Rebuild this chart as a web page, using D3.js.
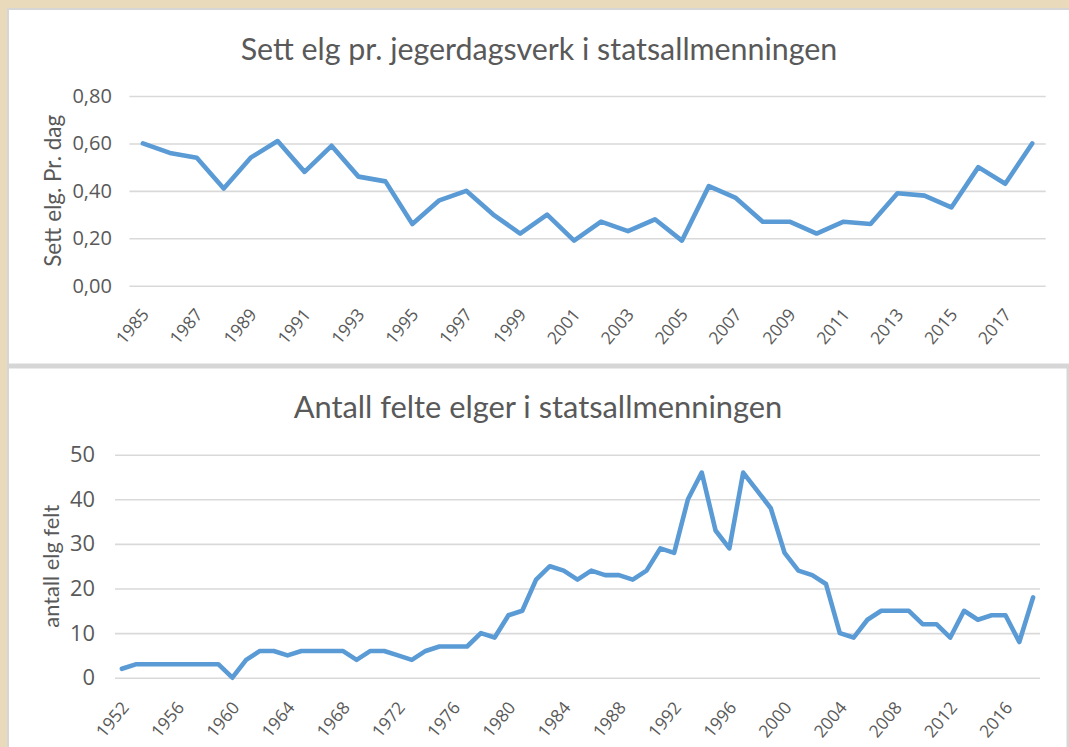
<!DOCTYPE html>
<html><head><meta charset="utf-8">
<script src="https://cdn.jsdelivr.net/npm/d3@7"></script>
<style>html,body{margin:0;padding:0;background:#e9dabb;} svg{display:block;}</style>
</head><body><svg id="c" width="1069" height="747"></svg>
<script>
// ---------- DATA ----------
const topYears = [1985,1986,1987,1988,1989,1990,1991,1992,1993,1994,1995,1996,1997,1998,1999,2000,2001,2002,2003,2004,2005,2006,2007,2008,2009,2010,2011,2012,2013,2014,2015,2016,2017,2018];
const topValues = [0.60,0.56,0.54,0.41,0.54,0.61,0.48,0.59,0.46,0.44,0.26,0.36,0.40,0.30,0.22,0.30,0.19,0.27,0.23,0.28,0.19,0.42,0.37,0.27,0.27,0.22,0.27,0.26,0.39,0.38,0.33,0.50,0.43,0.60];
const topTickYears = [1985,1987,1989,1991,1993,1995,1997,1999,2001,2003,2005,2007,2009,2011,2013,2015,2017];
const topYTicks = [0,0.2,0.4,0.6,0.8];
const topTitle = "Sett elg pr. jegerdagsverk i statsallmenningen";
const topYTitle = "Sett elg. Pr. dag";

const bottomYears = [1952,1953,1954,1955,1956,1957,1958,1959,1960,1961,1962,1963,1964,1965,1966,1967,1968,1969,1970,1971,1972,1973,1974,1975,1976,1977,1978,1979,1980,1981,1982,1983,1984,1985,1986,1987,1988,1989,1990,1991,1992,1993,1994,1995,1996,1997,1998,1999,2000,2001,2002,2003,2004,2005,2006,2007,2008,2009,2010,2011,2012,2013,2014,2015,2016,2017,2018];
const bottomValues = [2,3,3,3,3,3,3,3,0,4, 6,6,5,6,6,6,6,4,6,6, 5,4,6,7,7,7,10,9,14,15, 22,25,24,22,24,23,23,22,24,29, 28,40,46,33,29,46,42,38,28,24, 23,21,10,9,13,15,15,15,12,12, 9,15,13,14,14,8,18];
const bottomTickYears = [1952,1956,1960,1964,1968,1972,1976,1980,1984,1988,1992,1996,2000,2004,2008,2012,2016];
const bottomYTicks = [0,10,20,30,40,50];
const bottomTitle = "Antall felte elger i statsallmenningen";
const bottomYTitle = "antall elg felt";

// ---------- STYLE ----------
const FONT = "Lato, 'Open Sans', sans-serif";
const NUMFONT = "'Open Sans', 'Noto Sans', sans-serif";
const TEXT = "#595959";
const LINE = "#5b9bd5";
const GRID = "#d9d9d9";

const svg = d3.select("#c");
const W = 1069, H = 747;

// frame
svg.append("rect").attr("x",0).attr("y",0).attr("width",W).attr("height",H).attr("fill","#e9dabb");
svg.append("rect").attr("x",7).attr("y",8).attr("width",W-7).attr("height",H-8).attr("fill","#d6d6d6");
svg.append("rect").attr("x",9).attr("y",10).attr("width",W-9).attr("height",353.5).attr("fill","#fff");
svg.append("rect").attr("x",9).attr("y",368.5).attr("width",1057.5).attr("height",H-368.5).attr("fill","#fff");

const nb = d3.formatLocale({decimal:",", thousands:" ", grouping:[3], currency:["","kr"]});

function measureSize(txt, target, font){
  const p = svg.append("text").attr("font-family",font).attr("font-size",20).text(txt);
  const w = p.node().getComputedTextLength();
  p.remove();
  return 20*target/w;
}
function fit(sel, target){
  const w = sel.node().getComputedTextLength();
  const fs = parseFloat(sel.attr("font-size"));
  sel.attr("font-size", fs*target/w);
}

function panel(cfg){
  const g = svg.append("g");
  const x = d3.scaleBand().domain(cfg.years).range(cfg.xr).padding(0);
  const y = d3.scaleLinear().domain(cfg.yd).range(cfg.yr);

  const tfs = measureSize(cfg.probeText, cfg.probeWidth, NUMFONT);
  const xfs = measureSize(String(cfg.tickYears[0]), cfg.xLabelW, NUMFONT);

  // y axis + grid
  const ya = g.append("g").attr("transform",`translate(${cfg.xr[0]},0)`)
    .call(d3.axisLeft(y).tickValues(cfg.yTicks).tickFormat(cfg.fmt)
      .tickSize(-(cfg.xr[1]-cfg.xr[0])).tickPadding(cfg.yPad));
  ya.select(".domain").remove();
  ya.selectAll(".tick line").attr("stroke",GRID).attr("stroke-width",1.6);
  ya.selectAll(".tick text").attr("fill",TEXT).attr("font-family",NUMFONT).attr("font-size",tfs);

  // x axis labels
  const xa = g.append("g").attr("transform",`translate(0,${cfg.yr[0]})`)
    .call(d3.axisBottom(x).tickValues(cfg.tickYears).tickSize(0));
  xa.select(".domain").remove();
  xa.selectAll(".tick text").attr("fill",TEXT).attr("font-family",NUMFONT).attr("font-size",xfs)
    .attr("text-anchor","end").attr("x",0).attr("y",0).attr("dy",0)
    .attr("transform",`translate(${cfg.lx},${cfg.ly}) rotate(-50)`);

  // line
  const line = d3.line().x((d,i)=>x(cfg.years[i])+x.bandwidth()/2).y(d=>y(d));
  g.append("path").datum(cfg.values).attr("d",line).attr("fill","none")
    .attr("stroke",LINE).attr("stroke-width",4.6).attr("stroke-linejoin","round").attr("stroke-linecap","round");

  // title
  const t = g.append("text").attr("x",cfg.titleX).attr("y",cfg.titleY).attr("text-anchor","middle")
    .attr("font-family",FONT).attr("font-size",26).attr("fill",TEXT).text(cfg.title);
  fit(t, cfg.titleW);

  // y title
  const cy = (cfg.yr[0]+cfg.yr[1])/2;
  const yt = g.append("text").attr("text-anchor","middle").attr("transform",`translate(${cfg.ytX},${cy}) rotate(-90)`)
    .attr("font-family",FONT).attr("font-size",18).attr("fill",TEXT).text(cfg.yTitle);
  fit(yt, cfg.ytW);
}

panel({years:topYears, values:topValues, tickYears:topTickYears, yTicks:topYTicks,
  xr:[129.4,1045.7], yd:[0,0.8], yr:[285.7,96], fmt:nb.format(".2f"),
  probeText:"0,00", probeWidth:39.5, yPad:17.5, xLabelW:40, lx:7, ly:29.3,
  title:topTitle, titleX:539, titleY:59.5, titleW:597, yTitle:topYTitle, ytX:61, ytW:152});

panel({years:bottomYears, values:bottomValues, tickYears:bottomTickYears, yTicks:bottomYTicks,
  xr:[115,1040], yd:[0,50], yr:[677.7,454.7], fmt:d3.format("d"),
  probeText:"50", probeWidth:25, yPad:20, xLabelW:40, lx:8, ly:30.5,
  title:bottomTitle, titleX:538, titleY:417.5, titleW:489, yTitle:bottomYTitle, ytX:58.5, ytW:123});
</script>
</body></html>
